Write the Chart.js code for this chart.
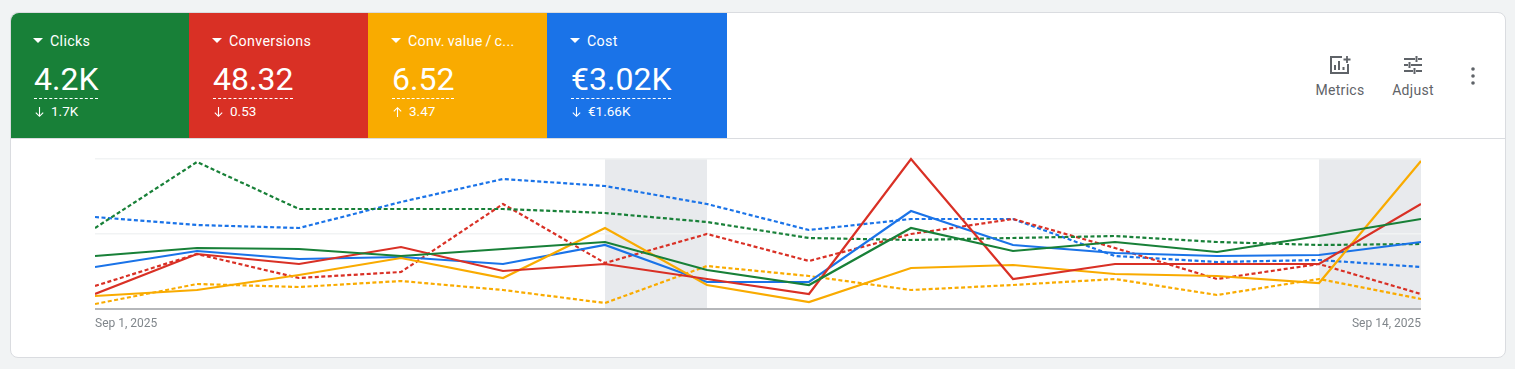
<!DOCTYPE html>
<html>
<head>
<meta charset="utf-8">
<script src="https://cdn.jsdelivr.net/npm/chart.js@4"></script>
<style>
  html, body { margin: 0; padding: 0; width: 1515px; height: 369px; overflow: hidden; background: #f1f3f4; font-family: Roboto, sans-serif; }
  .card { position: absolute; left: 10px; top: 12px; width: 1494px; height: 344px; background: #fff; border: 1px solid #dadce0; border-radius: 8px; }
  .divider { position: absolute; left: 11px; top: 138px; width: 1494px; height: 1px; background: #dadce0; }
  .tile { position: absolute; top: 13px; height: 125px; color: #fff; --pad: 24px; }
  .tile .name { position: absolute; left: var(--pad); top: 20px; font-size: 14.3px; letter-spacing: .3px; word-spacing: -1px; line-height: 16px; white-space: nowrap; }
  .tile .name::before { content: ""; position: absolute; left: -1px; top: 5px; border-left: 5px solid transparent; border-right: 5px solid transparent; border-top: 5px solid #fff; }
  .tile .name span { margin-left: 16px; }
  .tile .big { position: absolute; left: var(--pad); top: 47px; font-size: 32px; line-height: 38px; border-bottom: 1px dashed #fff; white-space: nowrap; }
  .tile .delta { position: absolute; left: var(--pad); top: 90px; font-size: 13.5px; line-height: 16px; white-space: nowrap; }
  .tile .delta svg { vertical-align: -2px; margin-right: 6px; }
  .action { position: absolute; top: 55px; width: 70px; text-align: center; color: #5f6368; font-size: 14px; letter-spacing: .3px; }
  .action svg { display: block; margin: 0 auto 7px; }
  #chartBox { position: absolute; left: 95px; top: 150px; width: 1326px; height: 185px; }
</style>
</head>
<body>
<div class="card"></div>
<div class="divider"></div>

<div class="tile" style="left:11px;width:178px;background:#188038;border-top-left-radius:8px;--pad:23px">
  <div class="name"><span>Clicks</span></div>
  <div class="big">4.2K</div>
  <div class="delta"><svg width="11" height="12" viewBox="0 0 11 12"><path d="M5.5 1v9M1.8 6.6l3.7 3.7 3.7-3.7" fill="none" stroke="#fff" stroke-width="1.1"/></svg>1.7K</div>
</div>
<div class="tile" style="left:189px;width:179px;background:#d93025">
  <div class="name"><span>Conversions</span></div>
  <div class="big">48.32</div>
  <div class="delta"><svg width="11" height="12" viewBox="0 0 11 12"><path d="M5.5 1v9M1.8 6.6l3.7 3.7 3.7-3.7" fill="none" stroke="#fff" stroke-width="1.1"/></svg>0.53</div>
</div>
<div class="tile" style="left:368px;width:179px;background:#f9ab00">
  <div class="name"><span>Conv. value / c...</span></div>
  <div class="big">6.52</div>
  <div class="delta"><svg width="11" height="12" viewBox="0 0 11 12"><path d="M5.5 11V2M1.8 5.4l3.7-3.7 3.7 3.7" fill="none" stroke="#fff" stroke-width="1.1"/></svg>3.47</div>
</div>
<div class="tile" style="left:547px;width:180px;background:#1a73e8">
  <div class="name"><span>Cost</span></div>
  <div class="big">€3.02K</div>
  <div class="delta"><svg width="11" height="12" viewBox="0 0 11 12"><path d="M5.5 1v9M1.8 6.6l3.7 3.7 3.7-3.7" fill="none" stroke="#fff" stroke-width="1.1"/></svg>€1.66K</div>
</div>

<div class="action" style="left:1305px">
  <svg width="22" height="20" viewBox="0 0 22 20" fill="none" stroke="#5f6368" stroke-width="2"><path d="M13 2H2v16h17V9"/><path d="M6 15v-5M10 15V6M14.500 15v-3"/><path d="M18 1v7M14.500 4.500h7" stroke-width="1.800"/></svg>
  Metrics
</div>
<div class="action" style="left:1378px">
  <svg width="20" height="20" viewBox="0 0 20 20" fill="none" stroke="#5f6368" stroke-width="2"><path d="M1 4h11M15 4h4M13.500 1v6M1 10h4M8 10h11M6.500 7v6M1 16h9M13 16h6M11.500 13v6"/></svg>
  Adjust
</div>
<svg style="position:absolute;left:1469px;top:66px" width="8" height="20" viewBox="0 0 8 20" fill="#5f6368"><circle cx="4" cy="3" r="1.800"/><circle cx="4" cy="10" r="1.800"/><circle cx="4" cy="17" r="1.800"/></svg>

<div id="chartBox"><canvas id="chart"></canvas></div>

<script>
const dates = ["Sep 1, 2025", "Sep 2, 2025", "Sep 3, 2025", "Sep 4, 2025", "Sep 5, 2025", "Sep 6, 2025", "Sep 7, 2025",
  "Sep 8, 2025", "Sep 9, 2025", "Sep 10, 2025", "Sep 11, 2025", "Sep 12, 2025", "Sep 13, 2025", "Sep 14, 2025"];
const tickValues = [0, 75, 150];

// chart has no y labels, values are relative to the chart height (0 to 150)
const clicks = [53, 61, 60, 53, 60, 67, 39, 24, 81, 58, 67, 57, 73, 90];
const conversions = [15, 55, 45, 62, 38, 45, 30, 15, 150, 30, 45, 45, 45, 105];
const convValue = [13, 19, 34, 51, 31, 81, 24, 7, 41, 44, 35, 33, 26, 148];
const cost = [42, 58, 50, 52, 45, 64, 27, 27, 98, 64, 56, 53, 54, 67];

const clicksPrev = [81, 147, 100, 100, 100, 96, 87, 71, 69, 71, 73, 67, 64, 65];
const conversionsPrev = [23, 55, 31, 37, 105, 46, 75, 48, 75, 90, 61, 30, 45, 15];
const convValuePrev = [5, 25, 22, 28, 19, 6, 43, 33, 19, 24, 30, 14, 30, 10];
const costPrev = [92, 84, 81, 107, 130, 123, 105, 79, 90, 90, 53, 47, 49, 42];

const weekendBands = [[5, 6], [12, 13]];

function makeSeries(label, values, color, dashed, order) {
  return {
    label: label,
    data: values,
    borderColor: color,
    borderWidth: 2.2,
    borderDash: dashed ? [4, 2.5] : [],
    pointRadius: 0,
    tension: 0,
    fill: false,
    clip: false,
    order: order
  };
}

// grey weekend columns behind the lines
const weekendPlugin = {
  id: "weekendBands",
  beforeDraw(chart) {
    const { ctx, chartArea, scales } = chart;
    ctx.save();
    ctx.fillStyle = "#e8eaed";
    weekendBands.forEach(([from, to]) => {
      const x1 = scales.x.getPixelForValue(from);
      const x2 = scales.x.getPixelForValue(to);
      ctx.fillRect(x1, chartArea.top, x2 - x1, chartArea.bottom - chartArea.top);
    });
    ctx.restore();
  }
};

new Chart(document.getElementById("chart"), {
  type: "line",
  plugins: [weekendPlugin],
  data: {
    labels: dates,
    datasets: [
      makeSeries("Clicks", clicks, "#188038", false, 1),
      makeSeries("Conversions", conversions, "#d93025", false, 2),
      makeSeries("Conv. value / cost", convValue, "#f9ab00", false, 3),
      makeSeries("Cost", cost, "#1a73e8", false, 4),
      makeSeries("Clicks (previous)", clicksPrev, "#188038", true, 5),
      makeSeries("Conversions (previous)", conversionsPrev, "#d93025", true, 6),
      makeSeries("Conv. value / cost (previous)", convValuePrev, "#f9ab00", true, 7),
      makeSeries("Cost (previous)", costPrev, "#1a73e8", true, 8)
    ]
  },
  options: {
    responsive: true,
    maintainAspectRatio: false,
    animation: false,
    layout: { padding: { top: 9, left: 0, right: 0, bottom: 0 } },
    plugins: { legend: { display: false }, tooltip: { enabled: false } },
    scales: {
      x: {
        offset: false,
        afterFit(scale) { scale.height = 26; },
        grid: { display: false },
        border: { display: true, color: "#b5b7ba", width: 2 },
        ticks: {
          autoSkip: false,
          maxRotation: 0,
          align: "inner",
          padding: 0,
          color: "#80868b",
          font: { family: "Roboto", size: 12 },
          callback(value, index) {
            return index === 0 || index === dates.length - 1 ? dates[index] : "";
          }
        }
      },
      y: {
        min: 0,
        max: 150,
        afterBuildTicks(scale) { scale.ticks = tickValues.map(v => ({ value: v })); },
        afterFit(scale) { scale.width = 0; },
        grid: { color: "#f1f3f4", lineWidth: 1.5, drawTicks: false },
        border: { display: false },
        ticks: { display: false }
      }
    }
  }
});
</script>
</body>
</html>
